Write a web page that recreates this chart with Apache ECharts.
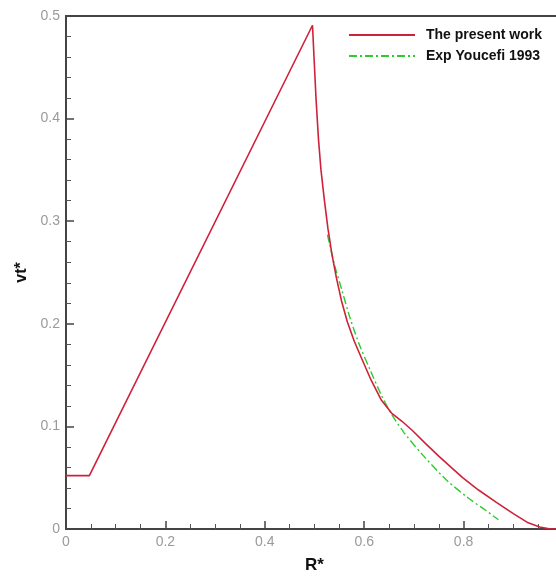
<!DOCTYPE html>
<html>
<head>
<meta charset="utf-8">
<script src="https://cdn.jsdelivr.net/npm/echarts@6/dist/echarts.min.js"></script>
<style>html,body{margin:0;padding:0;background:#fff}#c{width:556px;height:576px}</style>
</head>
<body>
<div id="c"></div>
<script>
const presentX = [0, 0.047, 0.496, 0.499, 0.503, 0.508, 0.513, 0.520, 0.527, 0.535, 0.544, 0.554, 0.566, 0.580, 0.596, 0.614, 0.634, 0.655, 0.676, 0.697, 0.722, 0.750, 0.775, 0.798, 0.830, 0.866, 0.900, 0.930, 0.953, 0.975, 1.0];
const presentY = [0.052, 0.052, 0.491, 0.460, 0.420, 0.380, 0.350, 0.320, 0.293, 0.268, 0.245, 0.223, 0.202, 0.183, 0.165, 0.145, 0.126, 0.113, 0.105, 0.096, 0.084, 0.071, 0.060, 0.050, 0.038, 0.026, 0.015, 0.006, 0.002, 0.0, 0.0];
const expX = [0.526, 0.540, 0.555, 0.570, 0.590, 0.612, 0.634, 0.655, 0.680, 0.718, 0.765, 0.810, 0.845, 0.870];
const expY = [0.287, 0.258, 0.233, 0.208, 0.180, 0.155, 0.131, 0.112, 0.094, 0.072, 0.048, 0.030, 0.018, 0.009];
const seriesNames = ['The present work', 'Exp Youcefi 1993'];
const xTicks = [0, 0.2, 0.4, 0.6, 0.8, 1];
const yTicks = [0, 0.1, 0.2, 0.3, 0.4, 0.5];

const zip = (a, b) => a.map((v, i) => [v, b[i]]);
const chart = echarts.init(document.getElementById('c'));
const labelStyle = {color: '#9a9a9a', fontSize: 14, fontFamily: 'Liberation Sans, Arial, sans-serif'};
chart.setOption({
  animation: false,
  grid: {left: 66, top: 16, width: 497, height: 513, outerBoundsMode: 'none', containLabel: false,
         show: true, borderColor: '#444', borderWidth: 2, backgroundColor: 'transparent'},
  legend: {
    left: 343, top: 23, orient: 'vertical', itemWidth: 66, itemHeight: 10, itemGap: 7,
    itemStyle: {opacity: 0},
    textStyle: {fontSize: 14, fontWeight: 'bold', color: '#111', padding: [0, 0, 0, 6], fontFamily: 'Liberation Sans, Arial, sans-serif'},
    data: seriesNames
  },
  xAxis: {
    type: 'value', min: xTicks[0], max: xTicks[xTicks.length - 1], interval: 0.2,
    name: 'R*', nameLocation: 'middle', nameGap: 28,
    nameTextStyle: {fontSize: 17, fontWeight: 'bold', color: '#111', fontFamily: 'Liberation Sans, Arial, sans-serif'},
    axisLine: {lineStyle: {color: '#444', width: 2}},
    axisTick: {inside: true, length: 8, lineStyle: {color: '#444', width: 1.5}},
    minorTick: {show: true, splitNumber: 4, length: 5, lineStyle: {color: '#555'}},
    splitLine: {show: false},
    axisLabel: Object.assign({margin: 6, formatter: v => (v >= 1 ? '' : String(+v.toFixed(1)))}, labelStyle)
  },
  yAxis: {
    type: 'value', min: yTicks[0], max: yTicks[yTicks.length - 1], interval: 0.1,
    name: 'vt*', nameLocation: 'middle', nameGap: 35, nameRotate: 90,
    nameTextStyle: {fontSize: 16, fontWeight: 'bold', color: '#111', fontFamily: 'Liberation Sans, Arial, sans-serif'},
    axisLine: {lineStyle: {color: '#444', width: 2}},
    axisTick: {inside: true, length: 8, lineStyle: {color: '#444', width: 1.5}},
    minorTick: {show: true, splitNumber: 5, length: 5, lineStyle: {color: '#555'}},
    splitLine: {show: false},
    axisLabel: Object.assign({margin: 6, formatter: v => String(+v.toFixed(1))}, labelStyle)
  },
  series: [
    {name: seriesNames[0], type: 'line', data: zip(presentX, presentY), showSymbol: false, symbol: 'none',
     lineStyle: {color: '#d0213a', width: 1.6}, itemStyle: {color: '#d0213a'}, z: 3},
    {name: seriesNames[1], type: 'line', data: zip(expX, expY), showSymbol: false, symbol: 'none', smooth: 0.3,
     lineStyle: {color: '#2ccb2c', width: 1.4, type: [8, 3, 2, 3]}, itemStyle: {color: '#2ccb2c'}, z: 2}
  ]
});
</script>
</body>
</html>
